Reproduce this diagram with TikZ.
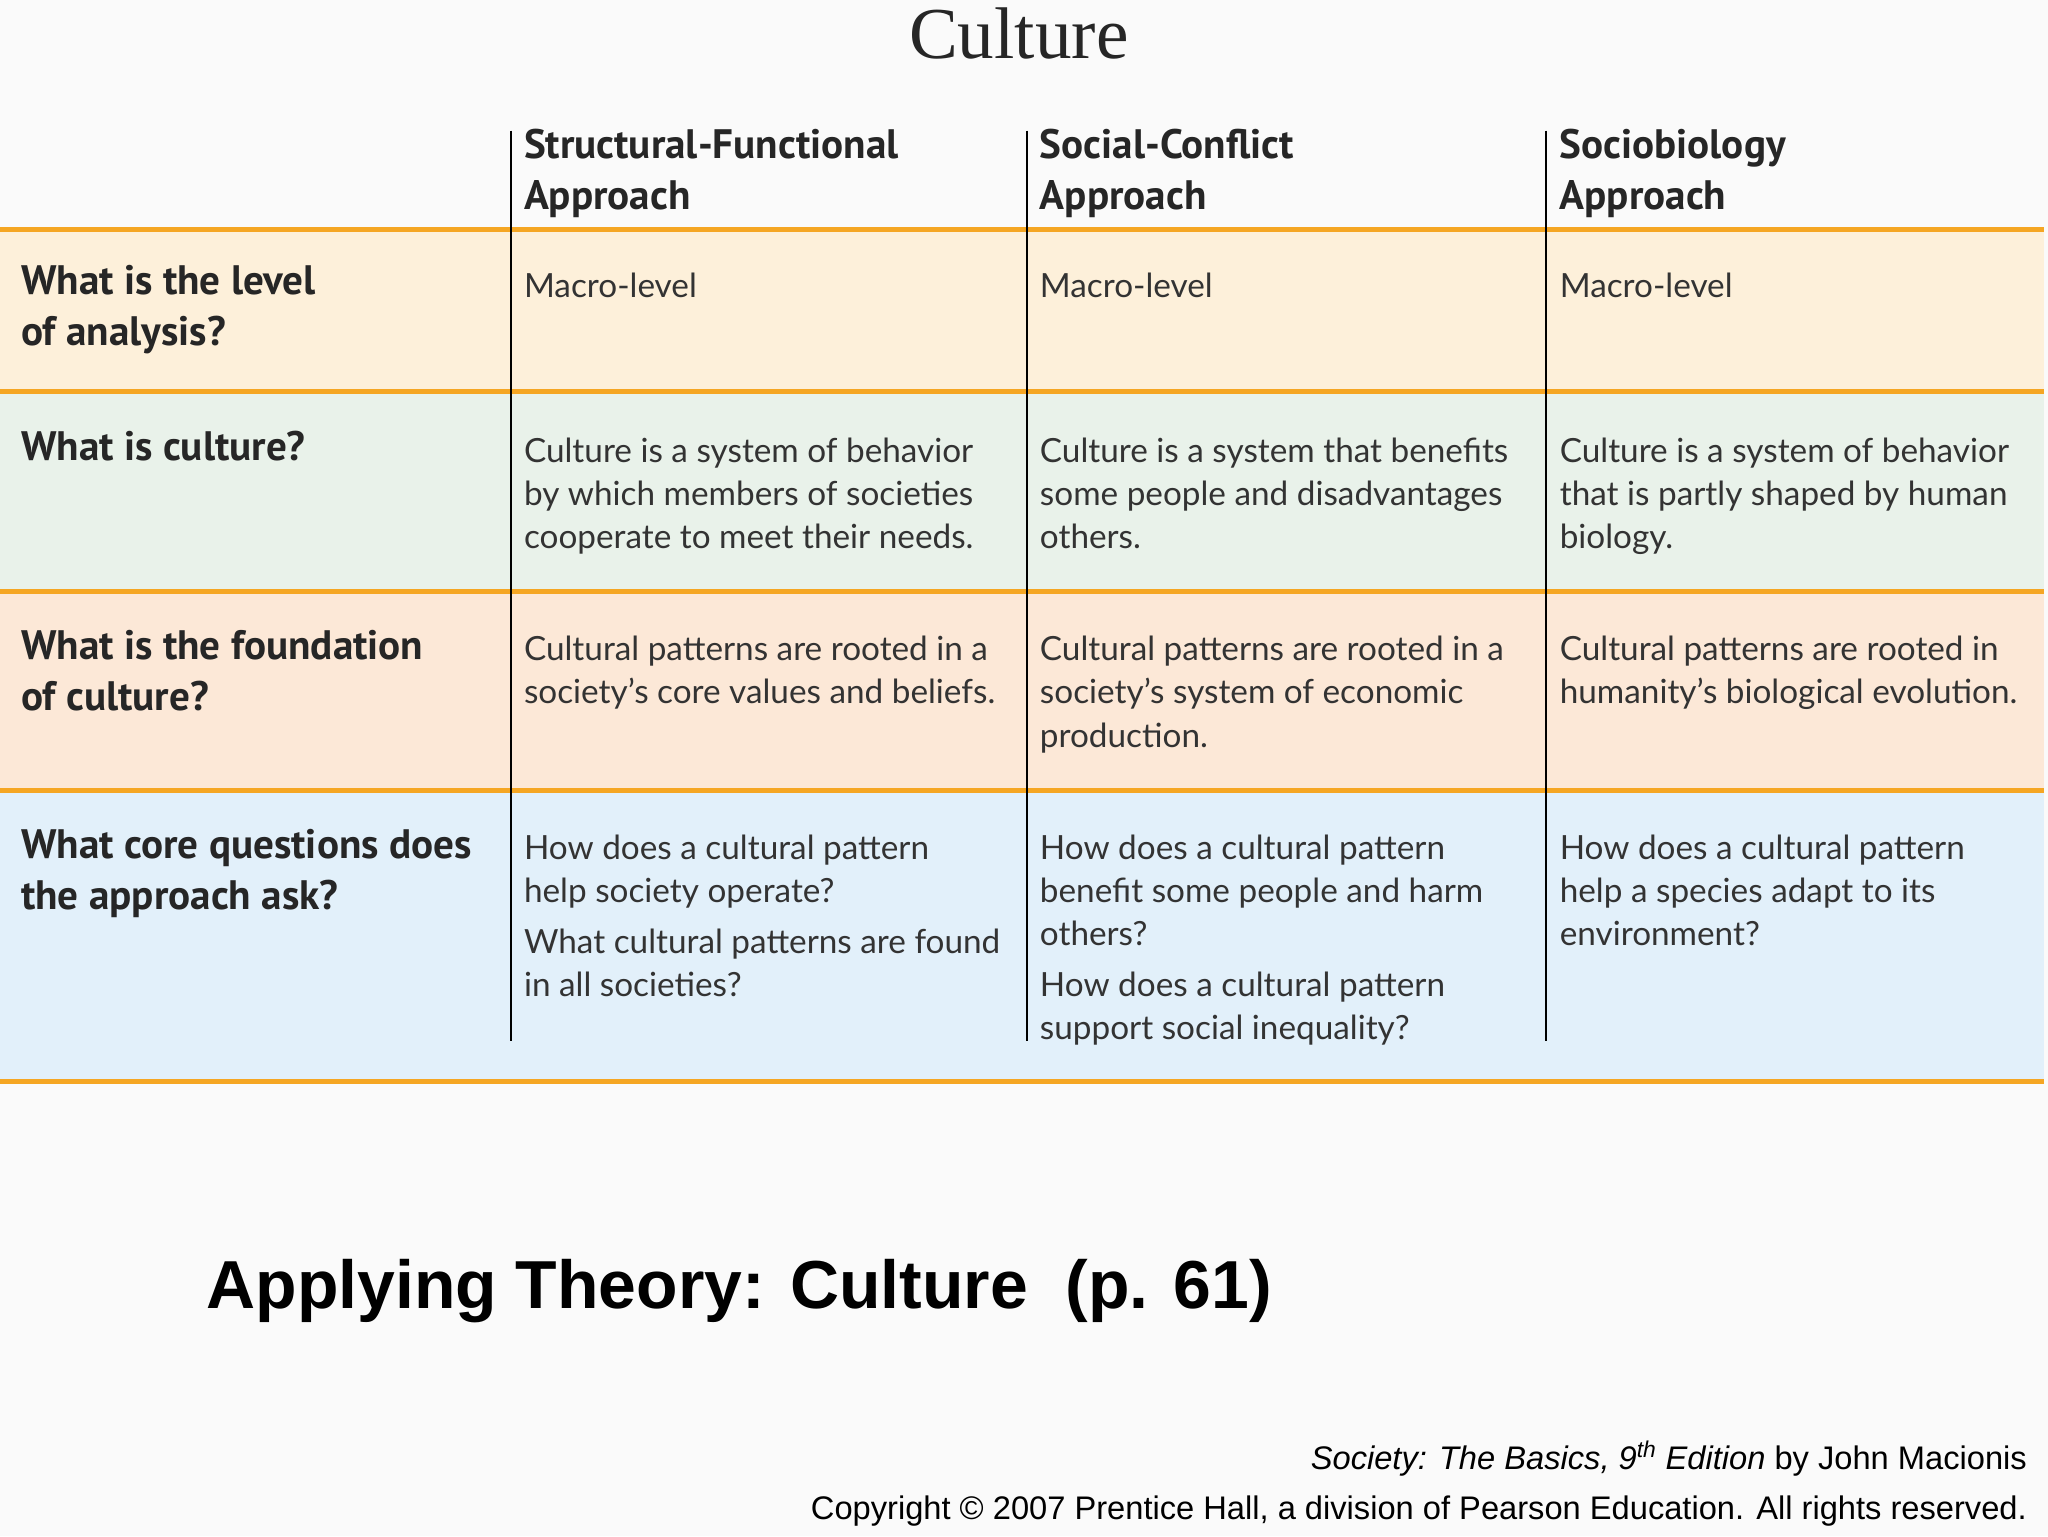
\documentclass[tikz,border=0pt]{standalone}
\usepackage{fontspec}
\setmainfont{Liberation Sans}
\newfontfamily\hdfont{PT Sans}
\newfontfamily\bodyfont{Lato}
\newfontfamily\seriffont{Liberation Serif}
\definecolor{band}{HTML}{F5A623}
\definecolor{rowA}{HTML}{FDF0DA}
\definecolor{rowB}{HTML}{E9F2EA}
\definecolor{rowC}{HTML}{FCE8D7}
\definecolor{rowD}{HTML}{E2F0FA}
\begin{document}
\begin{tikzpicture}[x=1pt,y=-1pt,
  hd/.style={anchor=north west,inner sep=0pt,align=left,font=\hdfont\bfseries\fontsize{31.5}{39}\selectfont,text=black!85},
  bd/.style={anchor=north west,inner sep=0pt,align=left,font=\bodyfont\fontsize{25.5}{33}\selectfont,text=black!80},
  rule/.style={band,line width=4pt},
  vline/.style={black,line width=1.5pt}]
\fill[white!98!black] (0,0) rectangle (1568,1176);
\useasboundingbox (0,0) rectangle (1568,1176);
\fill[rowA] (0,176) rectangle (1565,300);
\fill[rowB] (0,300) rectangle (1565,453);
\fill[rowC] (0,453) rectangle (1565,605);
\fill[rowD] (0,605) rectangle (1565,828);
\foreach \y in {176,300,453,605,828} \draw[rule] (0,\y) -- (1565,\y);
\foreach \x in {391,786,1184} \draw[vline] (\x,100) -- (\x,797);
\node[anchor=base,inner sep=0pt,font=\seriffont\fontsize{56}{60}\selectfont,text=black!85] (title) at (780,45) {Culture};
\node[hd] (h1) at (401,99) {Structural-Functional\\Approach};
\node[hd] (h2) at (796,99) {Social-Conflict\\Approach};
\node[hd] (h3) at (1194,99) {Sociobiology\\Approach};
\node[hd] (r1) at (16,203) {What is the level\\of analysis?};
\node[hd] (r2) at (16,330) {What is culture?};
\node[hd] (r3) at (16,482) {What is the foundation\\of culture?};
\node[hd] (r4) at (16,635) {What core questions does\\the approach ask?};
\node[bd] (a1) at (401,209) {Macro-level};
\node[bd] (a2) at (796,209) {Macro-level};
\node[bd] (a3) at (1194,209) {Macro-level};
\node[bd] (b1) at (401,335) {Culture is a system of behavior\\by which members of societies\\cooperate to meet their needs.};
\node[bd] (b2) at (796,335) {Culture is a system that benefits\\some people and disadvantages\\others.};
\node[bd] (b3) at (1194,335) {Culture is a system of behavior\\that is partly shaped by human\\biology.};
\node[bd] (c1) at (401,487) {Cultural patterns are rooted in a\\society’s core values and beliefs.};
\node[bd] (c2) at (796,487) {Cultural patterns are rooted in a\\society’s system of economic\\production.};
\node[bd] (c3) at (1194,487) {Cultural patterns are rooted in\\humanity’s biological evolution.};
\node[bd] (d1) at (401,639) {How does a cultural pattern\\help society operate?\\[6pt]What cultural patterns are found\\in all societies?};
\node[bd] (d2) at (796,639) {How does a cultural pattern\\benefit some people and harm\\others?\\[6pt]How does a cultural pattern\\support social inequality?};
\node[bd] (d3) at (1194,639) {How does a cultural pattern\\help a species adapt to its\\environment?};
\node[anchor=base west,inner sep=0pt,font=\bfseries\fontsize{52}{60}\selectfont] (app) at (158,1002) {Applying Theory: Culture \ (p. 61)};
\node[anchor=base east,inner sep=0pt,font=\fontsize{25}{30}\selectfont] (f1) at (1552,1125) {\textit{Society: The Basics, 9\textsuperscript{th} Edition} by John Macionis};
\node[anchor=base east,inner sep=0pt,font=\fontsize{25}{30}\selectfont] (f2) at (1552,1163) {Copyright © 2007 Prentice Hall, a division of Pearson Education. All rights reserved.};
\end{tikzpicture}
\end{document}
